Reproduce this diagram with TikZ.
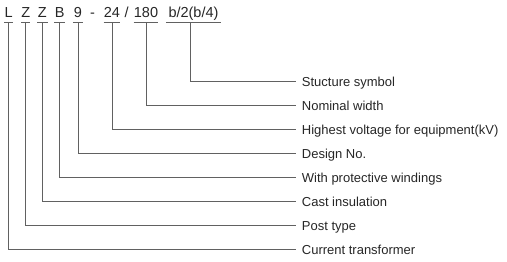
\documentclass[tikz,border=0pt]{standalone}
\usepackage{fontspec}
\setmainfont{Liberation Sans}
\begin{document}
\begin{tikzpicture}
  [x=1pt,y=-1pt,
   every node/.style={text=black!85},
   code/.style={inner sep=0pt,text depth=5pt,anchor=base,minimum width=#1,
     font=\fontsize{14.5}{16}\selectfont},
   sep/.style={inner sep=0pt,anchor=base,font=\fontsize{14.5}{16}\selectfont},
   lab/.style={anchor=west,inner xsep=6pt,inner ysep=0pt,text height=10pt,text depth=0pt,
     font=\fontsize{13}{15}\selectfont},
   line/.style={draw=black!62,line width=0.9pt}]
  \useasboundingbox (0,0) rectangle (507,262);

  % type designation
  \node[code=8.5pt] (cL) at (8.7,17.3) {L};
  \node[code=9pt] (cZa) at (25.7,17.3) {Z};
  \node[code=10pt] (cZb) at (42.3,17.3) {Z};
  \node[code=11pt] (cB) at (59.7,17.3) {B};
  \node[code=10pt] (c9) at (78,17.3) {9};
  \node[sep] (d1) at (92.5,17.3) {-};
  \node[code=16pt] (c24) at (112,17.3) {24};
  \node[sep] (d2) at (126.7,17.3) {/};
  \node[code=22pt] (c180) at (146,17.3) {180};
  \node[code=55pt] (csym) at (193.5,17.3) {b/2(b/4)};

  % meanings
  \node[lab] (lsym) at (295.7,81.7) {Stucture symbol};
  \node[lab] (l180) at (295.7,105.6) {Nominal width};
  \node[lab] (l24) at (295.7,129.6) {Highest voltage for equipment(kV)};
  \node[lab] (l9) at (295.7,153.5) {Design No.};
  \node[lab] (lB) at (295.7,177.5) {With protective windings};
  \node[lab] (lZb) at (295.7,201.4) {Cast insulation};
  \node[lab] (lZa) at (295.7,225.4) {Post type};
  \node[lab] (lL) at (295.7,249.3) {Current transformer};

  \foreach \c in {cL,cZa,cZb,cB,c9,c24,c180,csym}
  \draw[line] (\c.south west) -- (\c.south east);

  \foreach \from/\to in {cL/lL,cZa/lZa,cZb/lZb,cB/lB,c9/l9,c24/l24,c180/l180}
  \draw[line] (\from.south) |- (\to.west);
  \draw[line] ([xshift=-2.8pt]csym.south) |- (lsym.west);
\end{tikzpicture}
\end{document}
